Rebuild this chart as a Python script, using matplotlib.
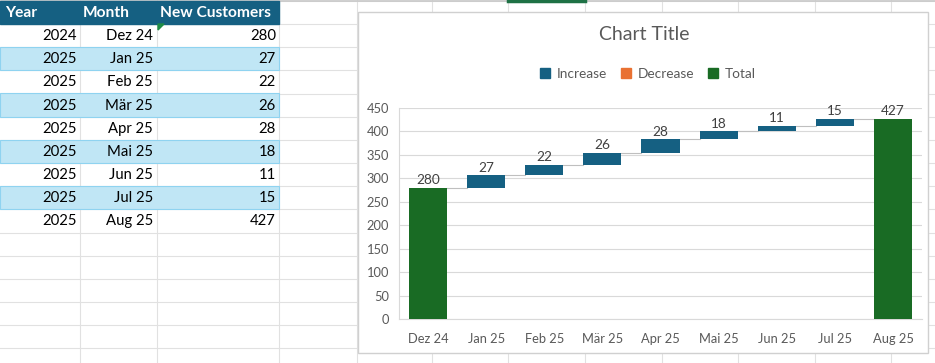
"""Excel style sheet with a waterfall chart of new customers."""

import matplotlib

matplotlib.use("Agg")
import matplotlib.pyplot as plt
import numpy as np
from matplotlib.patches import Patch, Rectangle, Polygon

plt.rcParams["font.family"] = ["Lato", "DejaVu Sans"]

# table data
years = [2024, 2025, 2025, 2025, 2025, 2025, 2025, 2025, 2025]
months = ["Dez 24", "Jan 25", "Feb 25", "Mär 25", "Apr 25",
          "Mai 25", "Jun 25", "Jul 25", "Aug 25"]
new_customers = [280, 27, 22, 26, 28, 18, 11, 15, 427]
headers = ["Year", "Month", "New Customers"]
# first and last entries are totals, the rest are increases
is_total = [True, False, False, False, False, False, False, False, True]

# colours (Office theme)
BLUE = "#156082"
ORANGE = "#E97132"
GREEN = "#196B24"
BAND = "#C0E6F5"
GRID = "#E1E1E1"
TXT = "#595959"

W, H = 935, 363
fig = plt.figure(figsize=(W / 100, H / 100), dpi=100)

# background axes in pixel coordinates for the sheet
bg = fig.add_axes([0, 0, 1, 1])
bg.set_xlim(0, W)
bg.set_ylim(H, 0)
bg.axis("off")

# sheet gridlines
col_edges = [80, 157, 279, 357, 432, 508, 585, 662, 738, 815, 891]
row_h = 23.15
for x in col_edges:
    bg.plot([x, x], [0, H], color=GRID, lw=0.8, zorder=1)
for k in range(17):
    y = 1 + row_h * k
    bg.plot([0, W], [y, y], color=GRID, lw=0.8, zorder=1)
# column header strip with selected column
bg.plot([0, W], [0.5, 0.5], color="#C8C8C8", lw=1.2, zorder=2)
bg.plot([508, 585], [0.8, 0.8], color="#1E7145", lw=2.5, zorder=3)

# the table
tab_right = 279
top = 1
bg.add_patch(Rectangle((0, top), tab_right, 23, color=BLUE, zorder=3))
head_x = [5, 83, 160]
for hx, txt in zip(head_x, headers):
    bg.text(hx, top + 12, txt, color="white", fontsize=11.2,
            fontweight="bold", va="center", ha="left", zorder=4)

right_x = [77, 153, 276]
for i, (yr, mo, nc) in enumerate(zip(years, months, new_customers)):
    y0 = top + 23 + row_h * i
    if i % 2 == 1:
        bg.add_patch(Rectangle((0, y0), tab_right, row_h, facecolor=BAND,
                               edgecolor="#8FD3F0", lw=0.8, zorder=3))
    for rx, val in zip(right_x, [yr, mo, nc]):
        bg.text(rx, y0 + row_h / 2 + 0.5, str(val), color="black",
                fontsize=10.7, va="center", ha="right", zorder=4)
# small green error marker in the cell corner
bg.add_patch(Polygon([[158, 24], [164, 24], [158, 30]], color="#1E8C45", zorder=5))

# chart area frame
bg.add_patch(Rectangle((358, 12), 570, 341, facecolor="white",
                       edgecolor="#D0D0D0", lw=1.0, zorder=6))
bg.text(644, 34, "Chart Title", fontsize=14, color=TXT,
        ha="center", va="center", zorder=7)

# plot area
left, right, ptop, pbot = 399, 922, 108, 319
ax = fig.add_axes([left / W, 1 - pbot / H, (right - left) / W, (pbot - ptop) / H])
ax.set_facecolor("none")
ax.set_zorder(8)

vals = np.array(new_customers)
x = np.arange(len(months))
ends = np.where(is_total, vals, np.cumsum(np.where(is_total, 0, vals)) + vals[0])
bottoms = np.where(is_total, 0, ends - vals)
colors = [GREEN if t else BLUE for t in is_total]
bar_w = 0.655

ax.bar(x, vals, bottom=bottoms, width=bar_w, color=colors, zorder=3)

# connector lines between bars
for i in range(len(x) - 1):
    ax.plot([x[i] + bar_w / 2, x[i + 1] - bar_w / 2], [ends[i], ends[i]],
            color="#BFBFBF", lw=0.8, zorder=2)

for xi, e, v in zip(x, ends, vals):
    ax.text(xi, e + 3, str(v), ha="center", va="bottom",
            fontsize=9.8, color="#404040", zorder=4)

ax.set_xlim(-0.5, len(x) - 0.5)
ax.set_ylim(0, 450)
ax.set_yticks(np.arange(0, 451, 50))
ax.set_xticks(x)
ax.set_xticklabels(months)
ax.yaxis.grid(True, color="#D9D9D9", lw=0.8, zorder=0)
ax.set_axisbelow(True)
ax.tick_params(length=0, labelsize=9.3, colors=TXT)
ax.tick_params(axis="x", pad=10)
ax.tick_params(axis="y", pad=7)
for s in ["top", "right"]:
    ax.spines[s].set_visible(False)
for s in ["left", "bottom"]:
    ax.spines[s].set_color("#D9D9D9")
    ax.spines[s].set_linewidth(0.8)

handles = [Patch(color=BLUE, label="Increase"),
           Patch(color=ORANGE, label="Decrease"),
           Patch(color=GREEN, label="Total")]
leg = fig.legend(handles=handles, loc="center", ncol=3, frameon=False,
                 bbox_to_anchor=(648 / W, 1 - 74 / H), fontsize=9.8,
                 handlelength=0.75, handleheight=0.75, handletextpad=0.5,
                 columnspacing=1.0)
for t in leg.get_texts():
    t.set_color(TXT)
leg.set_zorder(9)

fig.savefig("out.png", dpi=100)
